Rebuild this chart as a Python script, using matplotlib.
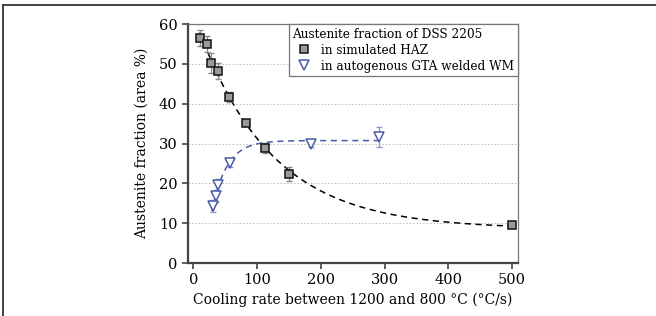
import numpy as np
import matplotlib
matplotlib.use("Agg")
import matplotlib.pyplot as plt
from matplotlib.lines import Line2D

# simulated HAZ
haz_rate = [10, 21, 28, 38, 56, 82, 113, 150, 500]
haz_frac = [56.5, 55.0, 50.1, 48.3, 41.6, 35.2, 28.9, 22.4, 9.5]
haz_err = [2.0, 2.0, 2.5, 2.0, 1.3, 0.8, 1.3, 1.8, 0.6]

# autogenous GTA welded WM
wm_rate = [31, 35, 39, 57, 184, 292]
wm_frac = [14.3, 16.9, 19.6, 25.2, 29.9, 31.6]
wm_err = [1.5, 1.5, 1.5, 1.0, 0.8, 2.6]

plt.rcParams['font.family'] = ['DejaVu Serif']


def fit_exp(x, y, taus):
    # y = c + a*exp(-x/tau), least squares over a grid of tau
    best = None
    for t in taus:
        m = np.column_stack([np.ones_like(x), np.exp(-x / t)])
        coef, res, _, _ = np.linalg.lstsq(m, y, rcond=None)
        err = np.sum((m @ coef - y) ** 2)
        if best is None or err < best[0]:
            best = (err, t, coef)
    return best[1], best[2]


fig = plt.figure(figsize=(6.56, 3.16), dpi=100)
ax = fig.add_axes([0.2866, 0.1677, 0.503, 0.7563])

hx = np.array(haz_rate, float)
hy = np.array(haz_frac, float)
t1, (c1, a1) = fit_exp(hx, hy, np.linspace(50, 250, 401))
xs = np.linspace(10, 500, 300)
ax.plot(xs, c1 + a1 * np.exp(-xs / t1), ls=(0, (4, 3)), color='black', lw=1.1, zorder=2)

wx = np.array(wm_rate, float)
wy = np.array(wm_frac, float)
t2, (c2, a2) = fit_exp(wx, wy, np.linspace(5, 80, 301))
xs2 = np.linspace(29, 292, 300)
ax.plot(xs2, c2 + a2 * np.exp(-xs2 / t2), ls=(0, (4, 3)), color='#4a5aa8', lw=1.1, zorder=2)

ax.errorbar(haz_rate, haz_frac, yerr=haz_err, fmt='none', ecolor='#888888',
            elinewidth=0.9, capsize=2.5, zorder=3)
ax.errorbar(wm_rate, wm_frac, yerr=wm_err, fmt='none', ecolor='#8c96c8',
            elinewidth=0.9, capsize=2.5, zorder=3)
ax.plot(haz_rate, haz_frac, 's', ms=6, mfc='#9a9a9a', mec='#111111', mew=1.1, zorder=4)
ax.plot(wm_rate, wm_frac, 'v', ms=7.5, mfc='white', mec='#4a5aa8', mew=1.1, zorder=4)

ax.set_xlim(-8.6, 509.4)
ax.set_ylim(0, 60)
ax.set_xticks([0, 100, 200, 300, 400, 500])
ax.set_yticks([0, 10, 20, 30, 40, 50, 60])
ax.yaxis.grid(True, ls=(0, (1.5, 2)), color='#bbbbbb', lw=0.7)
ax.set_axisbelow(True)
ax.tick_params(direction='out', length=4, width=1.2, labelsize=10.5, color='#444444')
for s in ['left', 'bottom']:
    ax.spines[s].set_linewidth(1.6)
    ax.spines[s].set_color('#444444')
for s in ['top', 'right']:
    ax.spines[s].set_linewidth(0.9)
    ax.spines[s].set_color('#777777')

ax.set_xlabel('Cooling rate between 1200 and 800 °C (°C/s)', fontsize=10)
ax.set_ylabel('Austenite fraction (area %)', fontsize=10, labelpad=7)

handles = [
    Line2D([], [], ls='none', marker='s', ms=6, mfc='#9a9a9a', mec='#111111', mew=1.1),
    Line2D([], [], ls='none', marker='v', ms=7.5, mfc='white', mec='#4a5aa8', mew=1.1),
]
leg = ax.legend(handles, ['in simulated HAZ', 'in autogenous GTA welded WM'],
                title='Austenite fraction of DSS 2205', loc='upper right',
                bbox_to_anchor=(1.0, 1.0), borderaxespad=0, fontsize=8.7,
                title_fontsize=8.7, alignment='left', fancybox=False,
                framealpha=1, edgecolor='#777777', handlelength=2.0,
                handletextpad=0.4, borderpad=0.3, labelspacing=0.25)
leg.get_frame().set_linewidth(0.9)

# outer frame (top and left edges)
fig.add_artist(Line2D([3 / 656, 3 / 656], [0, 1 - 5 / 316], transform=fig.transFigure,
                      color='#333333', lw=1.3))
fig.add_artist(Line2D([3 / 656, 1], [1 - 5 / 316, 1 - 5 / 316], transform=fig.transFigure,
                      color='#333333', lw=1.3))

fig.savefig('out.png', dpi=100)
